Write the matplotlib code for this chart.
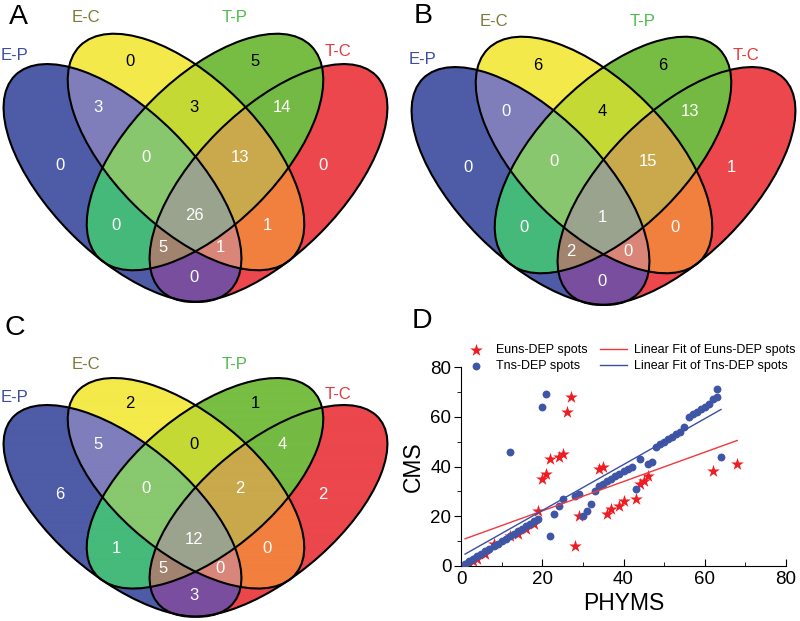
import numpy as np
import matplotlib.pyplot as plt
from matplotlib.patches import Ellipse
from matplotlib.colors import to_rgba
from matplotlib.transforms import Affine2D

plt.rcParams['font.family'] = ['Liberation Sans', 'DejaVu Sans']

# --- 1. Venn data (sets: E-P, E-C, T-P, T-C) ---
set_names = ["E-P", "E-C", "T-P", "T-C"]
# each region code says which sets it belongs to, in set_names order
regions = ["0100", "0010", "1100", "0110", "0011", "1000", "1110", "0111",
           "0001", "1010", "1111", "0101", "1011", "1101", "1001"]
counts_A = [0, 5, 3, 3, 14, 0, 0, 13, 0, 0, 26, 1, 5, 1, 0]
counts_B = [6, 6, 0, 4, 13, 0, 0, 15, 1, 0, 1, 0, 2, 0, 0]
counts_C = [2, 1, 5, 0, 4, 6, 0, 2, 2, 1, 12, 0, 5, 0, 3]

# --- 2. Scatter data for panel D ---
euns_x = [1, 2, 3, 4, 6, 8, 12, 14, 16, 18, 19, 20, 21, 22, 24, 25, 26, 27,
          28, 29, 34, 35, 36, 37, 39, 40, 43, 44, 45, 46, 62, 68]
euns_y = [0, 1, 2, 3, 5, 9, 12, 13, 15, 17, 22, 35, 37, 43, 44, 45, 62, 68,
          8, 20, 39, 40, 21, 23, 24, 26, 27, 33, 34, 36, 38, 41]
tns_x = [1, 2, 3, 4, 5, 6, 7, 8, 9, 10, 11, 12, 13, 14, 15, 16, 17, 18, 19,
         12, 20, 21, 22, 23, 24, 25, 28, 29, 30, 31, 32, 33,
         34, 35, 36, 37, 38, 39, 40, 41, 42, 43, 44, 46, 47,
         48, 49, 50, 51, 52, 53, 54, 55, 56, 57, 58, 59, 60, 61, 62, 63, 63, 64]
tns_y = [1, 2, 3, 4, 5, 6, 7, 8, 9, 10, 11, 12, 13, 14, 15, 16, 17, 18, 19,
         46, 64, 69, 12, 21, 24, 27, 28, 29, 20, 22, 25, 30,
         32, 33, 34, 35, 36, 37, 38, 39, 40, 31, 43, 41, 42,
         48, 49, 50, 51, 52, 53, 54, 56, 60, 61, 62, 63, 64, 65, 67, 68, 71, 44]
# linear fits as drawn (slope, intercept, x range)
euns_fit = (0.59, 10.35, 1, 68)
tns_fit = (0.923, 3.85, 1, 64)

# --- 3. Venn geometry (pixels inside one 400x310 panel) ---
ellipses = [(122.5, 183, 152, 72, 45), (186, 152, 150, 74, 45),
            (205, 152, 150, 74, -45), (268.5, 183, 152, 72, -45)]
region_colors = {
    "1000": "#4E5BA6", "0100": "#F4EA4A", "0010": "#78BE43", "0001": "#EB474C",
    "1100": "#7F7EBC", "0110": "#C5D935", "0011": "#74BA43", "1001": "#7A4E9E",
    "1010": "#45BA7A", "0101": "#F27F3E", "1110": "#88C86E", "0111": "#C9A94B",
    "1011": "#A2836F", "1101": "#D9867A", "1111": "#9BA38E"}
label_pos = {
    "0100": (130, 62), "0010": (255, 62), "1100": (98, 108), "0110": (194, 108),
    "0011": (282, 108), "1000": (60, 165), "1110": (146, 158), "0111": (240, 158),
    "0001": (323, 165), "1010": (116, 225), "1111": (194, 215), "0101": (267, 225),
    "1011": (163, 248), "1101": (220, 248), "1001": (194, 278)}
dark_text = ["0100", "0010", "0110"]
set_label_pos = [(15, 56), (86, 18), (235, 18), (338, 52)]
set_label_colors = ["#3D4DA0", "#7B7A3A", "#4DBB4A", "#E23B3F"]

fig = plt.figure(figsize=(8, 6.21), dpi=100)
vax = fig.add_axes([0, 0, 1, 1])


def draw_venn(ax, ox, oy, sy, counts):
    xs = np.arange(0, 400, 0.5) + 0.25
    ys = np.arange(0, 310, 0.5) + 0.25
    X, Y = np.meshgrid(xs, ys)
    inside = []
    for cx, cy, a, b, ang in ellipses:
        t = np.deg2rad(ang)
        dx, dy = X - cx, Y - cy
        u = dx * np.cos(t) + dy * np.sin(t)
        v = -dx * np.sin(t) + dy * np.cos(t)
        inside.append((u / a) ** 2 + (v / b) ** 2 <= 1)
    img = np.zeros(X.shape + (4,))
    for code, col in region_colors.items():
        mask = np.ones(X.shape, bool)
        for k, ch in enumerate(code):
            mask &= inside[k] if ch == "1" else ~inside[k]
        img[mask] = to_rgba(col)
    ax.imshow(img, extent=(ox, ox + 400, oy + 310 * sy, oy), origin="upper",
              interpolation="bilinear", zorder=1)
    tr = Affine2D().scale(1, sy).translate(ox, oy) + ax.transData
    for cx, cy, a, b, ang in ellipses:
        ax.add_patch(Ellipse((cx, cy), 2 * a, 2 * b, angle=ang, transform=tr,
                             fill=False, ec="black", lw=1.5, zorder=3))
    for code, n in zip(regions, counts):
        x, y = label_pos[code]
        ax.text(ox + x, oy + sy * y, str(n), ha="center", va="center", fontsize=12,
                color="black" if code in dark_text else "white", zorder=4)
    for name, (x, y), c in zip(set_names, set_label_pos, set_label_colors):
        ax.text(ox + x, oy + sy * y, name, ha="center", va="center", fontsize=12,
                color=c, zorder=4)


draw_venn(vax, 0, 0, 1.0, counts_A)
draw_venn(vax, 408, 3, 1.0, counts_B)
draw_venn(vax, 0, 348, 0.89, counts_C)
for letter, x, y in [("A", 18, 16.5), ("B", 423, 16), ("C", 15, 328), ("D", 422, 321)]:
    vax.text(x, y, letter, ha="center", va="center", fontsize=20.5, zorder=4)
vax.set_xlim(0, 800)
vax.set_ylim(621, 0)
vax.set_aspect("auto")
vax.axis("off")

# --- 4. Scatter panel D ---
ax = fig.add_axes([461 / 800, 1 - 566 / 621, 325 / 800, 199 / 621])
ax.set_facecolor("none")
ax.scatter(euns_x, euns_y, marker="*", s=90, color="#EE1D24", linewidths=0,
           zorder=2, label="Euns-DEP spots")
ax.scatter(tns_x, tns_y, marker="o", s=32, color="#3F55A5", linewidths=0,
           zorder=3, label="Tns-DEP spots")
for (k, b0, x0, x1), col, name in [(euns_fit, "#F0383C", "Linear Fit of Euns-DEP spots"),
                                   (tns_fit, "#3C4FA0", "Linear Fit of Tns-DEP spots")]:
    xr = np.array([x0, x1])
    ax.plot(xr, k * xr + b0, color=col, lw=1, zorder=4, label=name)
ax.set_xlim(0, 80)
ax.set_ylim(0, 80)
ax.spines["top"].set_visible(False)
ax.spines["right"].set_visible(False)
ax.set_xticks([0, 20, 40, 60, 80])
ax.set_xticks(np.arange(10, 80, 20), minor=True)
ax.set_yticks([0, 20, 40, 60, 80])
ax.set_yticks(np.arange(10, 80, 20), minor=True)
ax.tick_params(axis="x", which="both", direction="in", labelsize=13.5)
ax.tick_params(axis="y", which="both", direction="out", labelsize=13.5, pad=2)
ax.tick_params(which="major", length=5)
ax.tick_params(which="minor", length=3)
ax.set_xlabel("PHYMS", fontsize=16.5, labelpad=3)
ax.set_ylabel("CMS", fontsize=16.5, labelpad=4)
ax.legend(ncol=2, loc="upper left", bbox_to_anchor=(462 / 800, 1 - 344 / 621),
          bbox_transform=fig.transFigure, frameon=False, fontsize=9,
          handlelength=2.2, handletextpad=0.5, columnspacing=1.0,
          labelspacing=0.35, borderpad=0, borderaxespad=0)

fig.savefig("out.png", dpi=100)
